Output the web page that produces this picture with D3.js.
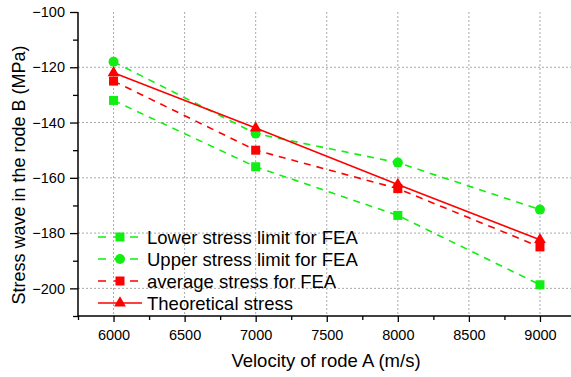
<!DOCTYPE html>
<html><head><meta charset="utf-8">
<script src="https://cdn.jsdelivr.net/npm/d3@7"></script>
<style>body{margin:0;background:#fff}svg{display:block;font-family:"Liberation Sans",Arial,sans-serif}</style>
</head><body><svg id="c" width="571" height="377"></svg>
<script>
const velocities = [6000, 7000, 8000, 9000];
const lowerFEA = [-132, -156, -173.6, -198.7];
const upperFEA = [-118, -144, -154.5, -171.5];
const avgFEA = [-125, -150, -163.9, -185];
const theoretical = [-122, -142, -162.4, -182.4];
const xTicks = [6000, 6500, 7000, 7500, 8000, 8500, 9000];
const yTicks = [-100, -120, -140, -160, -180, -200];
const seriesNames = ["Lower stress limit for FEA", "Upper stress limit  for FEA", "average stress for FEA", "Theoretical stress"];

const svg = d3.select("#c");
const L = 78, R = 575.5, T = 12, B = 316;
const x = d3.scaleLinear().domain([5750, 9250]).range([L, R]);
const y = d3.scaleLinear().domain([-210, -100]).range([B, T]);

const green = "#11ee11", red = "#ff0000";
const series = [
  {name: seriesNames[0], vals: lowerFEA, color: green, dash: "7,6", marker: "square"},
  {name: seriesNames[1], vals: upperFEA, color: green, dash: "7,6", marker: "circle"},
  {name: seriesNames[2], vals: avgFEA, color: red, dash: "7,6", marker: "square"},
  {name: seriesNames[3], vals: theoretical, color: red, dash: null, marker: "triangle"}
];

// grid
const g = svg.append("g");
g.selectAll(".vg").data(xTicks).join("line")
  .attr("x1", d => x(d)).attr("x2", d => x(d)).attr("y1", T).attr("y2", B)
  .attr("stroke", "#aaa").attr("stroke-width", 1).attr("stroke-dasharray", "2,2");
g.selectAll(".hg").data(yTicks.filter(d => d !== -100)).join("line")
  .attr("x1", L).attr("x2", R).attr("y1", d => y(d)).attr("y2", d => y(d))
  .attr("stroke", "#aaa").attr("stroke-width", 1).attr("stroke-dasharray", "2,2");

// axes
const xMinor = d3.range(5750, 9251, 250).filter(d => !xTicks.includes(d));
const yMinor = d3.range(-210, -99, 10).filter(d => !yTicks.includes(d));
const xAxis = svg.append("g").attr("transform", `translate(0,${B})`)
  .call(d3.axisBottom(x).tickValues(xTicks).tickSize(6).tickPadding(8).tickFormat(d3.format("d")));
svg.append("g").attr("transform", `translate(0,${B})`)
  .call(d3.axisBottom(x).tickValues(xMinor).tickSize(4).tickFormat(""))
  .select(".domain").remove();
const yAxis = svg.append("g").attr("transform", `translate(${L},0)`)
  .call(d3.axisLeft(y).tickValues(yTicks).tickSize(8).tickPadding(5).tickFormat(d3.format("d")));
svg.append("g").attr("transform", `translate(${L},0)`)
  .call(d3.axisLeft(y).tickValues(yMinor).tickSize(5).tickFormat(""))
  .select(".domain").remove();
svg.selectAll(".domain").attr("stroke", "#000").attr("stroke-width", 1.5);
svg.selectAll(".tick line").attr("stroke", "#000").attr("stroke-width", 1.3);
svg.selectAll(".tick text").attr("font-size", 14.5).attr("fill", "#000")
  .attr("font-family", '"Liberation Sans",Arial,sans-serif');
xAxis.select(".domain").attr("d", `M${L},0H${R}`);
yAxis.select(".domain").attr("d", `M0,${T}V${B}`);

// titles
svg.append("text").attr("x", 326).attr("y", 367).attr("text-anchor", "middle")
  .attr("font-size", 18.5).text("Velocity of rode A (m/s)");
svg.append("text").attr("transform", `translate(25,175) rotate(-90)`)
  .attr("text-anchor", "middle").attr("font-size", 18).text("Stress wave in the rode B (MPa)");

function drawMarker(sel, type, color) {
  if (type === "square") {
    sel.append("rect").attr("x", -4.5).attr("y", -4.5).attr("width", 9).attr("height", 9).attr("fill", color);
  } else if (type === "circle") {
    sel.append("circle").attr("r", 5).attr("fill", color);
  } else {
    sel.append("path").attr("d", d3.symbol(d3.symbolTriangle, 60)()).attr("fill", color);
  }
}

const line = d3.line().x((d, i) => x(velocities[i])).y(d => y(d));
series.forEach(s => {
  svg.append("path").attr("d", line(s.vals)).attr("fill", "none").attr("stroke", s.color)
    .attr("stroke-width", 1.6).attr("stroke-dasharray", s.dash);
  s.vals.forEach((v, i) => {
    const m = svg.append("g").attr("transform", `translate(${x(velocities[i])},${y(v)})`);
    drawMarker(m, s.marker, s.color);
  });
});

// legend
const legY = [237, 259, 281, 303];
series.forEach((s, i) => {
  const lg = svg.append("g").attr("transform", `translate(0,${legY[i]})`);
  lg.append("line").attr("x1", 98).attr("x2", 142).attr("y1", 0).attr("y2", 0)
    .attr("stroke", s.color).attr("stroke-width", 1.6).attr("stroke-dasharray", s.dash ? "8,8" : null);
  const m = lg.append("g").attr("transform", "translate(120,0)");
  drawMarker(m, s.marker, s.color);
  lg.append("text").attr("x", 147).attr("y", 6.5).attr("font-size", 18.5).text(s.name);
});
</script></body></html>
